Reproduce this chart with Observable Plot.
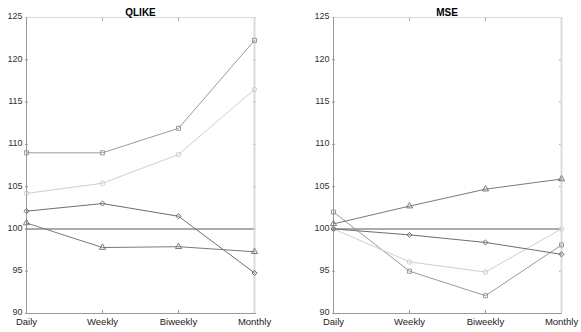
<!DOCTYPE html>
<html>
<head>
<meta charset="utf-8">
<script src="https://cdn.jsdelivr.net/npm/d3@7"></script>
<script src="https://cdn.jsdelivr.net/npm/@observablehq/plot@0.6"></script>
<style>
  html, body { margin: 0; padding: 0; background: #fff; }
  #wrap { position: relative; width: 581px; height: 332px; font-family: "Liberation Sans", Arial, sans-serif; }
  #left, #right { position: absolute; top: 0; }
  #left { left: 0; }
  #right { left: 290px; }
</style>
</head>
<body>
<div id="wrap"><div id="left"></div><div id="right"></div></div>
<script>
const periods = ["Daily", "Weekly", "Biweekly", "Monthly"];
const yTicks = [90, 95, 100, 105, 110, 115, 120, 125];
const seriesNames = ["square", "circle", "diamond", "triangle"];

// QLIKE panel
const qlikeSquare   = [109.0, 109.0, 111.9, 122.3];
const qlikeCircle   = [104.2, 105.4, 108.8, 116.5];
const qlikeDiamond  = [102.1, 103.0, 101.5, 94.8];
const qlikeTriangle = [100.7, 97.8, 97.9, 97.3];

// MSE panel
const mseSquare   = [102.0, 95.0, 92.1, 98.1];
const mseCircle   = [100.0, 96.1, 94.9, 100.0];
const mseDiamond  = [100.0, 99.3, 98.4, 97.0];
const mseTriangle = [100.6, 102.7, 104.7, 105.9];

const reference = 100;

const styles = {
  square:   {symbol: "square",   color: "#9a9a9a"},
  circle:   {symbol: "circle",   color: "#cfcfcf"},
  diamond:  {symbol: "diamond2", color: "#6e6e6e"},
  triangle: {symbol: "triangle", color: "#7a7a7a"}
};

function table(arrays) {
  const rows = [];
  seriesNames.forEach((s, i) => {
    arrays[i].forEach((v, j) => rows.push({series: s, period: periods[j], value: v}));
  });
  return rows;
}

function panel(title, arrays, opts) {
  const data = table(arrays);
  const marks = [
    Plot.ruleY([reference], {stroke: "#ababab", strokeWidth: 2}),
    Plot.axisY(yTicks, {anchor: "left", tickSize: -3, text: null, stroke: "#999", label: null}),
    Plot.axisY(yTicks, {anchor: "left", tickSize: 0, tickPadding: 3, dy: -1, fontSize: 9, fill: "#333", label: null}),
    Plot.axisY(yTicks, {anchor: "right", tickSize: -3, text: null, stroke: "#aaa", label: null}),
    Plot.axisX(periods, {anchor: "top", tickSize: -3, text: null, stroke: "#aaa", label: null}),
    Plot.axisX(periods, {anchor: "bottom", tickSize: -3, tickPadding: 8, fontSize: 9.5, fill: "#222", stroke: "#999", label: null}),
    Plot.ruleX([periods[3]], {stroke: "#dcdcdc", strokeWidth: 2}),
    Plot.ruleY([125], {stroke: "#d8d8d8"}),
    Plot.ruleY([90], {stroke: "#999"}),
    Plot.ruleX([periods[0]], {stroke: "#999"})
  ];
  seriesNames.forEach(s => {
    const d = data.filter(r => r.series === s);
    marks.push(Plot.line(d, {x: "period", y: "value", stroke: styles[s].color, strokeWidth: 1}));
    marks.push(Plot.dot(d, {x: "period", y: "value", symbol: () => styles[s].symbol, stroke: styles[s].color, fill: "none", r: 2.3, strokeWidth: 1}));
  });
  marks.push(Plot.text([title], {frameAnchor: "top", dy: -9, fontWeight: "bold", fontSize: 10, fill: "#000"}));
  return Plot.plot({
    width: opts.width,
    height: 332,
    marginLeft: opts.marginLeft,
    marginRight: opts.marginRight,
    marginTop: 17,
    marginBottom: 19,
    style: {fontFamily: "'Liberation Sans', Arial, sans-serif", background: "transparent", overflow: "visible"},
    x: {type: "point", domain: periods, padding: 0, axis: null},
    y: {domain: [90, 125], axis: null},
    symbol: {type: "identity"},
    marks
  });
}

document.getElementById("left").appendChild(
  panel("QLIKE", [qlikeSquare, qlikeCircle, qlikeDiamond, qlikeTriangle], {width: 290, marginLeft: 25, marginRight: 35})
);
document.getElementById("right").appendChild(
  panel("MSE", [mseSquare, mseCircle, mseDiamond, mseTriangle], {width: 291, marginLeft: 42, marginRight: 20})
);
</script>
</body>
</html>
